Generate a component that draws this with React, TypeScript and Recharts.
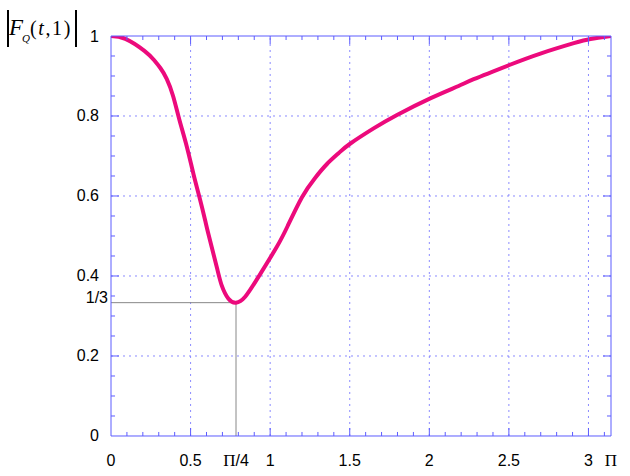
import { LineChart, Line, XAxis, YAxis, ReferenceLine } from "recharts";

const PI = Math.PI;

// curve samples
const tValues = [
  0, 0.09, 0.21, 0.27, 0.31, 0.35, 0.39, 0.43, 0.476, 0.518, 0.555, 0.591, 0.612, 0.664, 0.696,
  0.738, 0.785, 0.843, 0.93, 1.042, 1.11, 1.2, 1.28, 1.357, 1.43, 1.5, 1.65, 1.797, 2.006, 2.184,
  2.279, 2.503, 2.698, 2.908, 3.013, 3.1416,
];
const fValues = [
  1, 0.993, 0.963, 0.94, 0.92, 0.893, 0.85, 0.79, 0.724, 0.655, 0.598, 0.54, 0.505, 0.423, 0.376,
  0.343, 0.3333, 0.348, 0.4, 0.473, 0.525, 0.597, 0.644, 0.68, 0.707, 0.73, 0.769, 0.8025, 0.844,
  0.875, 0.892, 0.9275, 0.956, 0.982, 0.9925, 1.0,
];

const minT = PI / 4;
const minF = 1 / 3;

const xLabelTicks = [0, 0.5, minT, 1, 1.5, 2, 2.5, 3, PI];
const xLabels = ["0", "0.5", "Π/4", "1", "1.5", "2", "2.5", "3", "Π"];
const xMajor = [0.5, 1, 1.5, 2, 2.5, 3];
const xMinor = [
  0.1, 0.2, 0.3, 0.4, 0.6, 0.7, 0.8, 0.9, 1.1, 1.2, 1.3, 1.4, 1.6, 1.7, 1.8, 1.9, 2.1, 2.2, 2.3,
  2.4, 2.6, 2.7, 2.8, 2.9, 3.1,
];

const yLabelTicks = [0, 0.2, minF, 0.4, 0.6, 0.8, 1];
const yLabels = ["0", "0.2", "1/3", "0.4", "0.6", "0.8", "1"];
const yMajor = [0.2, 0.4, 0.6, 0.8];
const yMinor = [0.05, 0.1, 0.15, 0.25, 0.3, 0.35, 0.45, 0.5, 0.55, 0.65, 0.7, 0.75, 0.85, 0.9, 0.95];

const data = tValues.map((t, i) => ({ t, f: fValues[i] }));

const FRAME = "#5c5cff";
const GRID = "#8a8aff";
const CURVE = "#ec0a7c";
const SANS = "'Liberation Sans', Arial, sans-serif";
const SERIF = "'Liberation Serif', 'Times New Roman', serif";

const XTick = ({ x, y, index }: any) => {
  const label = xLabels[index];
  const hasPi = label.startsWith("Π");
  return (
    <text x={x} y={y + 22} textAnchor="middle" fontSize={16} fontFamily={SANS} fill="#000">
      {hasPi ? (
        <>
          <tspan fontFamily={SERIF} fontSize={17}>Π</tspan>
          {label.slice(1)}
        </>
      ) : (
        label
      )}
    </text>
  );
};

const YTick = ({ x, y, index }: any) => {
  const label = yLabels[index];
  const shift = label === "1/3" ? 5 : -4;
  const dy = label === "1/3" ? 0 : 5.5;
  return (
    <text x={x + shift} y={y + dy} textAnchor="end" fontSize={16} fontFamily={SANS} fill="#000">
      {label}
    </text>
  );
};

// tick marks only, no label
const NoLabel = () => <g />;

const xCommon = {
  type: "number" as const,
  dataKey: "t",
  domain: [0, PI],
  allowDataOverflow: true,
  height: 0.01,
  stroke: FRAME,
  interval: 0 as const,
};

const yCommon = {
  type: "number" as const,
  domain: [0, 1],
  allowDataOverflow: true,
  width: 0.01,
  stroke: FRAME,
  interval: 0 as const,
};

export default function App() {
  return (
    <div style={{ position: "absolute", left: 0, top: 0, width: 630, height: 476, background: "#fff" }}>
      <svg width={90} height={56} style={{ position: "absolute", left: 0, top: 0 }}>
        <line x1={8} y1={10} x2={8} y2={47} stroke="#000" strokeWidth={2} />
        <line x1={76} y1={10} x2={76} y2={47} stroke="#000" strokeWidth={2} />
        <text x={9} y={35} fontFamily={SERIF} fontStyle="italic" fontSize={23} fill="#000">F</text>
        <text x={22} y={42} fontFamily={SERIF} fontStyle="italic" fontSize={11} fill="#000">Q</text>
        <text x={30} y={35} fontFamily={SERIF} fontSize={20} letterSpacing={1.6} fill="#000">
          (<tspan fontStyle="italic">t</tspan>,1)
        </text>
      </svg>
      <LineChart width={630} height={476} data={data} margin={{ top: 36, right: 19, bottom: 40, left: 111 }}>
        <XAxis xAxisId="x" {...xCommon} ticks={xLabelTicks} tickLine={false} tick={<XTick />} />
        <XAxis xAxisId="xMaj" {...xCommon} ticks={xMajor} mirror tickSize={8} tick={<NoLabel />} axisLine={false} />
        <XAxis xAxisId="xMin" {...xCommon} ticks={xMinor} mirror tickSize={4} tick={<NoLabel />} axisLine={false} />
        <XAxis xAxisId="xMajT" orientation="top" {...xCommon} ticks={xMajor} mirror tickSize={8} tick={<NoLabel />} />
        <XAxis xAxisId="xMinT" orientation="top" {...xCommon} ticks={xMinor} mirror tickSize={4} tick={<NoLabel />} axisLine={false} />

        <YAxis yAxisId="y" {...yCommon} ticks={yLabelTicks} tickLine={false} tick={<YTick />} />
        <YAxis yAxisId="yMaj" {...yCommon} ticks={yMajor} mirror tickSize={8} tick={<NoLabel />} axisLine={false} />
        <YAxis yAxisId="yMin" {...yCommon} ticks={yMinor} mirror tickSize={4} tick={<NoLabel />} axisLine={false} />
        <YAxis yAxisId="yMajR" orientation="right" {...yCommon} ticks={yMajor} mirror tickSize={8} tick={<NoLabel />} />
        <YAxis yAxisId="yMinR" orientation="right" {...yCommon} ticks={yMinor} mirror tickSize={4} tick={<NoLabel />} axisLine={false} />

        {xMajor.map((v) => (
          <ReferenceLine key={`gx${v}`} xAxisId="x" yAxisId="y" x={v} stroke={GRID} strokeDasharray="2 4" />
        ))}
        {yMajor.map((v) => (
          <ReferenceLine key={`gy${v}`} xAxisId="x" yAxisId="y" y={v} stroke={GRID} strokeDasharray="2 4" />
        ))}

        <ReferenceLine
          xAxisId="x"
          yAxisId="y"
          segment={[{ x: 0, y: minF }, { x: minT, y: minF }]}
          stroke="#888"
          strokeWidth={1}
        />
        <ReferenceLine
          xAxisId="x"
          yAxisId="y"
          segment={[{ x: minT, y: 0 }, { x: minT, y: minF }]}
          stroke="#888"
          strokeWidth={1}
        />
        <Line
          xAxisId="x"
          yAxisId="y"
          type="natural"
          dataKey="f"
          stroke={CURVE}
          strokeWidth={4}
          dot={false}
          isAnimationActive={false}
        />
      </LineChart>
    </div>
  );
}
